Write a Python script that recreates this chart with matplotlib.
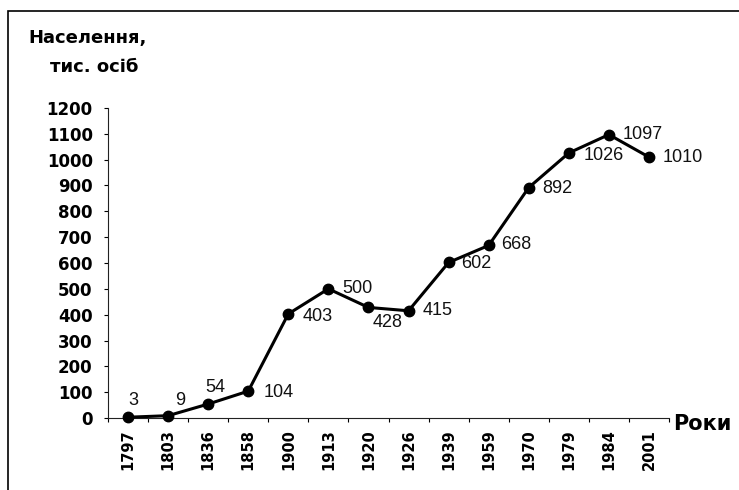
import matplotlib.pyplot as plt
from matplotlib.patches import Rectangle
import numpy as np

YEARS = ["1797", "1803", "1836", "1858", "1900", "1913", "1920", "1926",
         "1939", "1959", "1970", "1979", "1984", "2001"]
POPULATION = [3, 9, 54, 104, 403, 500, 428, 415, 602, 668, 892, 1026, 1097, 1010]

# label offsets in points (dx, dy) and horizontal alignment per point
LABEL_OFFSETS = [(4, 12, "center"), (9, 11, "center"), (5, 12, "center"),
                 (11, -1, "left"), (10, -2, "left"), (10, 0, "left"),
                 (3, -11, "left"), (10, 0, "left"), (9, -1, "left"),
                 (9, 1, "left"), (10, -1, "left"), (11, -2, "left"),
                 (10, 0, "left"), (10, 0, "left")]

plt.rcParams["font.family"] = ["Liberation Sans", "DejaVu Sans"]
WIDE = "DejaVu Sans"

W, H = 739, 490
fig = plt.figure(figsize=(W / 100, H / 100), dpi=100)
ax = fig.add_axes([108 / W, (H - 418) / H, (669 - 108) / W, (418 - 108) / H])

x = np.arange(len(YEARS))
ax.plot(x, POPULATION, color="black", linewidth=2.2, marker="o",
        markersize=7.5, clip_on=False, zorder=3)

for xi, val, (dx, dy, ha) in zip(x, POPULATION, LABEL_OFFSETS):
    ax.annotate(str(val), (xi, val), xytext=(dx, dy), textcoords="offset points",
                ha=ha, va="center", fontsize=13, color="#111111")

ax.set_xlim(-0.5, len(YEARS) - 0.5)
ax.set_ylim(0, 1200)
ax.set_yticks(range(0, 1201, 100))
ax.set_xticks(x)
ax.set_xticklabels(YEARS, rotation=90, fontsize=10.5, fontweight="bold",
                   family=WIDE)
ax.set_xticks(np.arange(-0.5, len(YEARS), 1.0), minor=True)
ax.tick_params(axis="x", which="major", length=0, pad=8)
ax.tick_params(axis="x", which="minor", length=3, width=0.8, direction="out")
ax.tick_params(axis="y", length=3, width=0.8, direction="out", pad=8)
for lab in ax.get_yticklabels():
    lab.set_fontweight("bold")
    lab.set_family(WIDE)
    lab.set_fontsize(12)

for side in ("top", "right"):
    ax.spines[side].set_visible(False)
for side in ("left", "bottom"):
    ax.spines[side].set_linewidth(0.8)
    ax.spines[side].set_color("#222222")

fig.text(88 / W, 1 - 38 / H, "Населення,", ha="center", va="center",
         fontsize=13, fontweight="bold", family=WIDE)
fig.text(94 / W, 1 - 67 / H, "тис. осіб", ha="center", va="center",
         fontsize=13, fontweight="bold", family=WIDE)
fig.text(673 / W, 1 - 424 / H, "Роки", ha="left", va="center",
         fontsize=15, fontweight="bold", family=WIDE)

fig.patches.append(Rectangle((8 / W, -0.1), 1.2, 1.1 - 11 / H,
                             transform=fig.transFigure, fill=False,
                             edgecolor="black", linewidth=1.2))

fig.savefig("out.png", dpi=100)
